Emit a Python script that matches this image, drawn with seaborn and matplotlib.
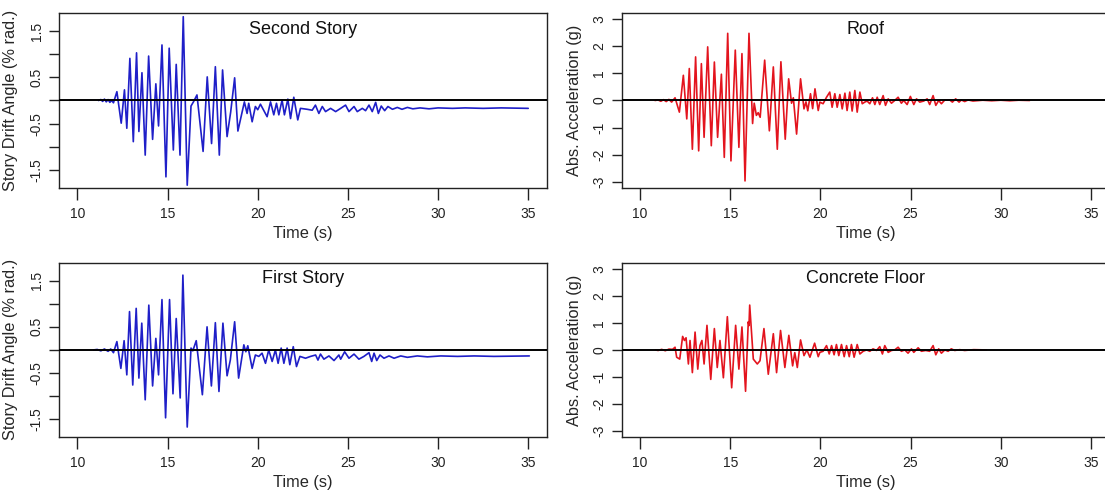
import matplotlib
matplotlib.use("Agg")
import matplotlib.pyplot as plt
import seaborn as sns
import pandas as pd

# ---------------- data ----------------
t_second = [11.17, 11.3, 11.4, 11.5, 11.6, 11.7, 11.8, 11.9, 12.0,
            12.19, 12.43, 12.61, 12.74, 12.91, 13.10, 13.28, 13.41, 13.58, 13.76,
            13.95, 14.17, 14.35, 14.50, 14.69, 14.91, 15.09, 15.32, 15.48, 15.69,
            15.87, 16.09, 16.3, 16.45, 16.63, 16.97, 17.2, 17.44, 17.65, 17.87,
            18.05, 18.3, 18.5, 18.72, 18.9,
            19.26, 19.41, 19.5, 19.69, 19.87, 20.0, 20.15, 20.52, 20.71, 20.89,
            21.04, 21.17, 21.35, 21.48, 21.67, 21.82, 22.0, 22.22, 22.37, 22.74,
            23.02, 23.2, 23.39, 23.58, 23.76, 24.04, 24.32, 24.6, 24.87, 25.06,
            25.34, 25.52, 25.8, 25.98, 26.17, 26.35, 26.54, 26.69, 26.85, 27.04,
            27.22, 27.47, 27.74, 28.0, 28.3, 28.6, 29.0, 29.5, 30.0, 30.8, 31.5,
            32.5, 33.5, 35.0]
d_second = [0.0, 0.02, -0.02, 0.03, -0.03, 0.02, -0.04, 0.0, -0.05,
            0.19, -0.49, 0.23, -0.6, 0.91, -0.89, 1.03, -0.67, 0.6, -1.18,
            0.96, -0.84, 0.36, -0.55, 1.2, -1.65, 1.13, -1.07, 0.78, -1.18,
            1.81, -1.83, -0.12, -0.02, 0.12, -1.1, 0.51, -0.93, 0.73, -1.18,
            0.66, -0.78, -0.25, 0.49, -0.66,
            -0.03, -0.28, -0.06, -0.46, -0.13, -0.2, -0.08, -0.35, -0.03, -0.31,
            -0.06, -0.31, 0.01, -0.31, 0.03, -0.39, 0.07, -0.42, -0.17, -0.19,
            -0.21, -0.1, -0.28, -0.13, -0.24, -0.17, -0.24, -0.17, -0.1, -0.24,
            -0.13, -0.24, -0.17, -0.22, -0.1, -0.24, -0.04, -0.28, -0.12, -0.22,
            -0.13, -0.19, -0.15, -0.19, -0.15, -0.18, -0.16, -0.18, -0.16, -0.17, -0.16,
            -0.17, -0.16, -0.17]

t_first = [10.89, 11.1, 11.3, 11.5, 11.7, 11.85, 12.0,
           12.19, 12.41, 12.59, 12.74, 12.89, 13.07, 13.26, 13.41, 13.57, 13.76,
           13.96, 14.17, 14.35, 14.5, 14.69, 14.89, 15.11, 15.30, 15.48, 15.70,
           15.85, 16.09, 16.3, 16.4, 16.59, 16.93, 17.19, 17.43, 17.65, 17.85,
           18.07, 18.3, 18.48, 18.72, 18.94,
           19.23, 19.34, 19.45, 19.69, 19.87, 20.06, 20.24, 20.43, 20.61, 20.8,
           20.98, 21.13, 21.3, 21.45, 21.63, 21.78, 21.97, 22.15, 22.34, 22.65,
           22.93, 23.21, 23.34, 23.48, 23.67, 23.95, 24.23, 24.5, 24.6, 24.82,
           25.06, 25.34, 25.61, 25.89, 26.17, 26.32, 26.45, 26.6, 26.78, 27.0,
           27.28, 27.56, 27.93, 28.3, 28.85, 29.41, 30.15, 31.08, 32.0, 33.1, 35.06]
d_first = [0.0, 0.01, -0.02, 0.02, -0.03, 0.02, -0.06,
           0.18, -0.4, 0.2, -0.54, 0.83, -0.76, 0.9, -0.61, 0.58, -1.08,
           0.97, -0.78, 0.25, -0.54, 1.09, -1.47, 1.09, -0.95, 0.68, -1.04,
           1.62, -1.67, 0.04, -0.02, 0.2, -0.97, 0.5, -0.78, 0.59, -0.9,
           0.58, -0.56, -0.22, 0.61, -0.61,
           0.11, -0.04, 0.09, -0.4, -0.11, -0.14, -0.07, -0.29, 0.0, -0.25,
           0.0, -0.29, 0.04, -0.29, 0.04, -0.32, 0.07, -0.36, -0.14, -0.18,
           -0.14, -0.11, -0.22, -0.09, -0.2, -0.13, -0.23, -0.11, -0.2, -0.04,
           -0.18, -0.09, -0.2, -0.14, -0.06, -0.25, -0.07, -0.23, -0.11, -0.18,
           -0.13, -0.18, -0.13, -0.16, -0.13, -0.15, -0.13, -0.14, -0.13, -0.14, -0.13]

t_roof = [10.83, 11.0, 11.15, 11.3, 11.45, 11.6, 11.75, 11.94,
          12.18, 12.4, 12.59, 12.73, 12.9, 13.08, 13.25, 13.4, 13.55, 13.75,
          13.95, 14.12, 14.3, 14.51, 14.67, 14.86, 15.04, 15.28, 15.48, 15.65,
          15.82, 16.04, 16.24, 16.33, 16.45, 16.55, 16.66, 16.91, 17.17, 17.39,
          17.61, 17.81, 18.05, 18.24, 18.4, 18.5, 18.68, 18.9, 19.09, 19.2,
          19.3, 19.45, 19.57, 19.7, 19.88,
          19.97, 20.15, 20.34, 20.52, 20.65, 20.8, 20.93, 21.08, 21.21, 21.36,
          21.48, 21.63, 21.76, 21.91, 22.04, 22.19, 22.32, 22.46, 22.59, 22.74,
          22.89, 23.02, 23.15, 23.29, 23.48, 23.61, 23.76, 23.94, 24.12, 24.31,
          24.49, 24.62, 24.81, 24.99, 25.18, 25.33, 25.51, 25.73, 25.92, 26.06,
          26.25, 26.4, 26.56, 26.71, 26.9, 27.17, 27.32, 27.5, 27.69, 27.82,
          28.0, 28.19, 28.46, 29.0, 29.5, 30.0, 30.5, 31.0, 31.6]
a_roof = [0.0, 0.02, -0.03, 0.03, -0.04, 0.04, -0.06, 0.1,
          -0.43, 0.93, -0.68, 1.18, -1.8, 1.61, -1.86, 1.36, -1.36, 1.98,
          -1.67, 1.42, -1.36, 0.97, -2.1, 2.48, -2.23, 1.86, -1.73, 1.73,
          -2.97, 2.48, -0.85, -0.1, -0.55, -0.45, -0.62, 1.49, -1.12, 1.24,
          -1.8, 1.43, -1.43, 0.8, -0.1, 0.1, -1.24, 0.8, -0.31, -0.05,
          -0.38, 0.25, -0.3, 0.43, -0.37,
          -0.06, -0.12, 0.12, 0.31, -0.25, 0.25, -0.25, 0.22, -0.31, 0.27,
          -0.37, 0.31, -0.39, 0.37, -0.43, 0.31, -0.12, -0.06, -0.02, -0.12,
          0.1, -0.15, 0.12, -0.15, 0.18, -0.18, 0.06, -0.1, 0.0, 0.12,
          -0.1, 0.0, -0.15, 0.15, -0.15, 0.06, -0.06, -0.02, 0.06, -0.15,
          0.18, -0.18, 0.0, -0.12, 0.02, 0.02, -0.06, 0.06, -0.06, 0.02,
          -0.04, 0.02, -0.02, 0.01, -0.01, 0.01, -0.01, 0.01, 0.0]

t_floor = [10.85, 11.0, 11.2, 11.4, 11.6, 11.8, 11.94, 12.03, 12.2, 12.36,
           12.46, 12.55, 12.68, 12.77, 12.9, 13.05, 13.2, 13.32, 13.43, 13.55,
           13.71, 13.92, 14.12, 14.28, 14.43, 14.62, 14.84, 15.08, 15.3, 15.48,
           15.65, 15.85, 16.0, 16.04, 16.08, 16.28, 16.5, 16.65, 16.87, 17.11,
           17.39, 17.57, 17.79, 18.03, 18.25, 18.46, 18.58, 18.72, 18.9, 19.09,
           19.25, 19.42, 19.68, 19.88,
           19.97, 20.15, 20.34, 20.49, 20.62, 20.76, 20.89, 21.02, 21.17, 21.32,
           21.45, 21.6, 21.72, 21.87, 22.04, 22.19, 22.37, 22.56, 22.74, 22.92,
           23.11, 23.29, 23.44, 23.57, 23.76, 23.94, 24.12, 24.31, 24.49, 24.68,
           24.86, 25.05, 25.18, 25.42, 25.6, 25.84, 26.06, 26.25, 26.4, 26.56,
           26.71, 26.9, 27.08, 27.26, 27.45, 27.73, 28.0, 28.5, 29.2]
a_floor = [0.0, -0.02, 0.02, -0.03, 0.03, 0.02, 0.1, -0.27, -0.34, 0.5,
           0.35, 0.45, -0.52, 0.35, -0.84, 0.66, -0.71, 0.16, 0.35, -0.52,
           0.91, -1.09, 0.79, -0.65, 0.35, -1.03, 1.23, -1.4, 0.91, -0.71,
           0.85, -1.53, 1.04, 0.9, 1.66, -0.34, -0.52, -0.4, 0.79, -0.9,
           0.6, -0.84, 0.72, -0.65, 0.54, -0.59, -0.1, -0.65, 0.37, -0.21,
           0.0, -0.27, 0.25, -0.25,
           -0.09, -0.05, 0.16, -0.15, 0.16, -0.18, 0.2, -0.21, 0.2, -0.25,
           0.16, -0.25, 0.2, -0.27, 0.2, -0.15, -0.05, 0.0, -0.05, 0.04,
           -0.02, 0.12, -0.15, 0.16, -0.09, -0.02, 0.0, 0.1, -0.05, 0.0,
           -0.12, 0.04, -0.09, 0.08, -0.05, -0.02, -0.05, 0.16, -0.18, 0.04,
           -0.12, 0.0, -0.05, 0.04, -0.02, 0.01, -0.02, 0.01, 0.0]

x_ticks = [10, 15, 20, 25, 30, 35]
drift_ticks = [-1.5, -1.0, -0.5, 0.0, 0.5, 1.0, 1.5]
drift_tick_labels = ["-1.5", "", "-0.5", "", "0.5", "", "1.5"]
acc_ticks = [-3, -2, -1, 0, 1, 2, 3]
acc_tick_labels = ["-3", "-2", "-1", "0", "1", "2", "3"]

panels = [
    dict(t=t_second, v=d_second, title="Second Story", kind="drift", pos=[0.0534, 0.621, 0.4416, 0.3528]),
    dict(t=t_roof, v=a_roof, title="Roof", kind="acc", pos=[0.5626, 0.621, 0.4416, 0.3528]),
    dict(t=t_first, v=d_first, title="First Story", kind="drift", pos=[0.0534, 0.1185, 0.4416, 0.352]),
    dict(t=t_floor, v=a_floor, title="Concrete Floor", kind="acc", pos=[0.5626, 0.1185, 0.4416, 0.352]),
]

# ---------------- styling ----------------
sns.set_theme(style="ticks")
plt.rcParams["font.family"] = ["Liberation Sans", "DejaVu Sans"]

BLUE = "#1f1fc8"
RED = "#e3141e"

fig = plt.figure(figsize=(11.05, 4.96), dpi=100)
fig.patch.set_facecolor("white")

for p in panels:
    ax = fig.add_axes(p["pos"])
    df = pd.DataFrame({"t": p["t"], "v": p["v"]})
    color = BLUE if p["kind"] == "drift" else RED
    sns.lineplot(data=df, x="t", y="v", ax=ax, color=color, lw=1.2,
                 sort=False, estimator=None, errorbar=None)
    ax.axhline(0, color="black", lw=1.4, zorder=3)
    ax.set_xlim(8.98, 36.04)
    ax.set_xticks(x_ticks)
    ax.set_xticklabels([str(v) for v in x_ticks])
    if p["kind"] == "drift":
        ax.set_ylim(-1.89, 1.89)
        ax.set_yticks(drift_ticks)
        ax.set_yticklabels(drift_tick_labels)
        ax.set_ylabel("Story Drift Angle (% rad.)", fontsize=11.8)
        ax.yaxis.set_label_coords(-0.084, 0.5)
    else:
        ax.set_ylim(-3.23, 3.23)
        ax.set_yticks(acc_ticks)
        ax.set_yticklabels(acc_tick_labels)
        ax.set_ylabel("Abs. Acceleration (g)", fontsize=11.8)
        ax.yaxis.set_label_coords(-0.081, 0.5)
    ax.set_xlabel("Time (s)", fontsize=11.8)
    ax.xaxis.set_label_coords(0.5, -0.215)
    ax.xaxis.label.set_va("top")
    ax.tick_params(axis="x", direction="out", length=8.5, width=1.0, pad=5,
                   labelsize=10, colors="#222222")
    ax.tick_params(axis="y", direction="out", length=7, width=1.0, pad=4,
                   labelsize=10, colors="#222222")
    for lbl in ax.get_yticklabels():
        lbl.set_rotation(90)
        lbl.set_ha("right")
        lbl.set_va("center")
    for s in ax.spines.values():
        s.set_visible(True)
        s.set_color("#222222")
        s.set_linewidth(1.0)
    ax.text(0.5, 0.955, p["title"], transform=ax.transAxes, ha="center",
            va="top", fontsize=13, color="#111111")
    ax.set_facecolor("white")

fig.savefig("out.png", dpi=100, facecolor="white")
